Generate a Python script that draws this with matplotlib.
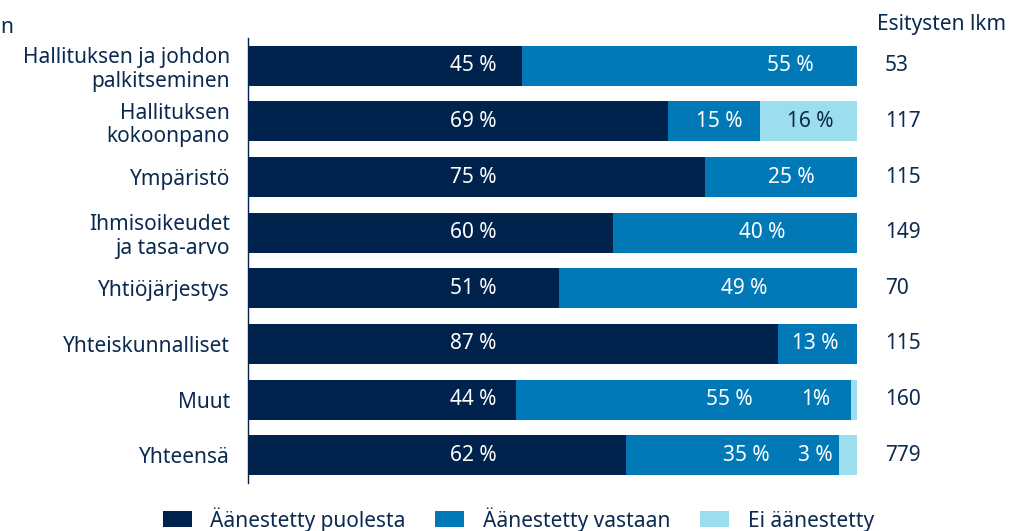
import matplotlib
matplotlib.use("Agg")
import matplotlib.pyplot as plt

# aihealueet ja äänestystulokset (%)
aiheet = ["Hallituksen ja johdon\npalkitseminen", "Hallituksen\nkokoonpano", "Ympäristö",
          "Ihmisoikeudet\nja tasa-arvo", "Yhtiöjärjestys", "Yhteiskunnalliset", "Muut", "Yhteensä"]
puolesta = [45, 69, 75, 60, 51, 87, 44, 62]
vastaan = [55, 15, 25, 40, 49, 13, 55, 35]
ei_aan = [0, 16, 0, 0, 0, 0, 1, 3]
esitykset = [53, 117, 115, 149, 70, 115, 160, 779]

# label-paikat (x, %) kuten alkuperäisessä
x_puol = [37, 37, 37, 37, 37, 37, 37, 37]
x_vast = [89, 77.4, 89.2, 84.5, 81.5, 93.2, 79.1, 81.8]
x_ei = [None, 92.4, None, None, None, None, 93.2, 93.1]

c_puol = "#00234d"
c_vast = "#0279b7"
c_ei = "#9ddeee"
tekstivari = "#0b2a4f"

plt.rcParams["font.family"] = ["Noto Sans", "DejaVu Sans"]

fig = plt.figure(figsize=(10.12, 5.31), dpi=100)
ax = fig.add_axes([0.245, 0.0904, 0.6018, 0.838])

y = list(range(len(aiheet)))
h = 0.72
ax.barh(y, puolesta, height=h, color=c_puol, label="Äänestetty puolesta")
ax.barh(y, vastaan, left=puolesta, height=h, color=c_vast, label="Äänestetty vastaan")
vasen2 = [p + v for p, v in zip(puolesta, vastaan)]
ax.barh(y, ei_aan, left=vasen2, height=h, color=c_ei, label="Ei äänestetty")

fs = 15
for i in y:
    ax.text(x_puol[i], i, f"{puolesta[i]} %", color="white", ha="center", va="center", fontsize=fs)
    ax.text(x_vast[i], i, f"{vastaan[i]} %", color="white", ha="center", va="center", fontsize=fs)
    if x_ei[i] is not None:
        if ei_aan[i] >= 10:
            ax.text(x_ei[i], i, f"{ei_aan[i]} %", color=tekstivari, ha="center", va="center", fontsize=fs)
        elif ei_aan[i] == 1:
            ax.text(x_ei[i], i, f"{ei_aan[i]}%", color="white", ha="center", va="center", fontsize=fs)
        else:
            ax.text(x_ei[i], i, f"{ei_aan[i]} %", color="white", ha="center", va="center", fontsize=fs)
    ax.text(104.6, i, str(esitykset[i]), color=tekstivari, ha="left", va="center",
            fontsize=fs, clip_on=False)

ax.text(103.3, -0.75, "Esitysten lkm", color=tekstivari, ha="left", va="center",
        fontsize=fs, clip_on=False)

ax.set_xlim(0, 100)
ax.set_ylim(len(aiheet) - 0.5, -0.5)
ax.set_yticks(y)
ax.set_yticklabels(aiheet, fontsize=fs, color=tekstivari, linespacing=1.15)
ax.tick_params(axis="y", length=0, pad=13)
ax.set_xticks([])
for s in ["top", "right", "bottom"]:
    ax.spines[s].set_visible(False)
ax.spines["left"].set_color(c_puol)
ax.spines["left"].set_linewidth(1)

fig.text(0.0, 0.948, "n", color=tekstivari, fontsize=fs, ha="left", va="center")

leg = fig.legend(loc="center", bbox_to_anchor=(0.512, 0.022), ncol=3, frameon=False,
                 fontsize=fs, handlelength=1.4, handleheight=0.8, columnspacing=1.4,
                 handletextpad=0.9)
for t in leg.get_texts():
    t.set_color(tekstivari)

fig.savefig("out.png", dpi=100)
